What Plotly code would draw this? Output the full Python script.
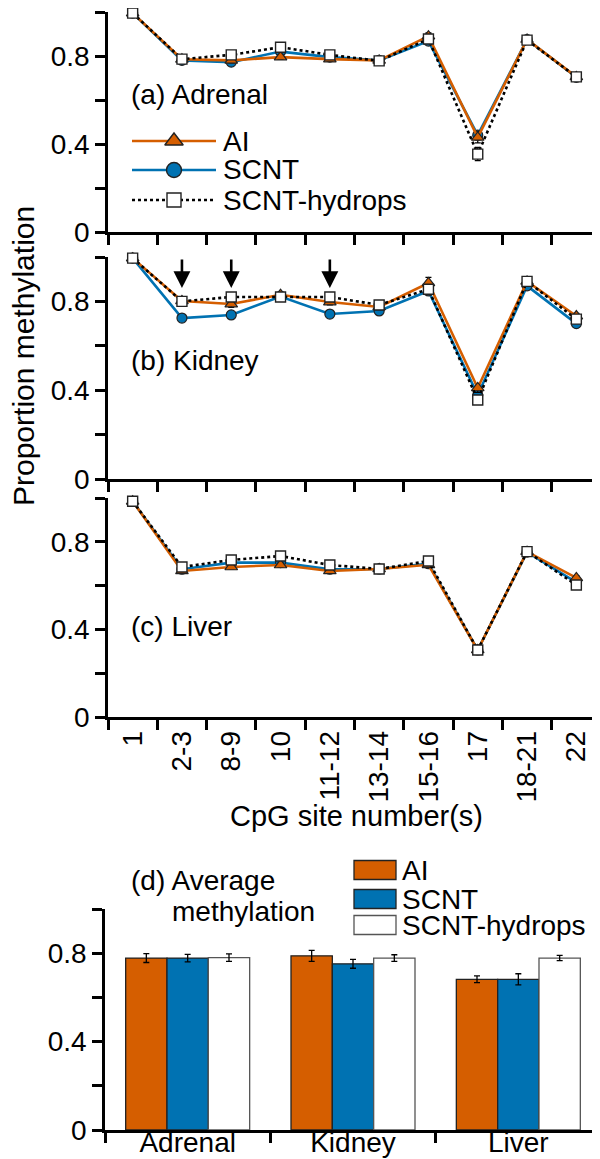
import plotly.graph_objects as go

W, H = 600, 1159

# ---- data -------------------------------------------------------------
sites = ["1", "2-3", "8-9", "10", "11-12", "13-14", "15-16", "17", "18-21", "22"]

adrenal_ai = [0.995, 0.785, 0.780, 0.795, 0.786, 0.780, 0.890, 0.430, 0.875, 0.705]
adrenal_ai_err = [0.005, 0.010, 0.010, 0.010, 0.010, 0.008, 0.015, 0.025, 0.008, 0.006]
adrenal_scnt = [0.995, 0.780, 0.772, 0.820, 0.795, 0.780, 0.868, 0.440, 0.875, 0.703]
adrenal_scnt_err = [0.005, 0.008, 0.008, 0.010, 0.008, 0.008, 0.012, 0.020, 0.008, 0.006]
adrenal_hyd = [0.995, 0.786, 0.805, 0.840, 0.805, 0.778, 0.877, 0.354, 0.872, 0.705]
adrenal_hyd_err = [0.005, 0.008, 0.008, 0.008, 0.008, 0.006, 0.015, 0.030, 0.008, 0.006]

kidney_ai = [0.995, 0.802, 0.788, 0.830, 0.797, 0.775, 0.883, 0.410, 0.890, 0.734]
kidney_ai_err = [0.005, 0.012, 0.015, 0.012, 0.012, 0.010, 0.025, 0.020, 0.010, 0.012]
kidney_scnt = [0.995, 0.725, 0.739, 0.822, 0.743, 0.757, 0.847, 0.378, 0.870, 0.700]
kidney_scnt_err = [0.005, 0.012, 0.010, 0.015, 0.010, 0.012, 0.012, 0.015, 0.010, 0.012]
kidney_hyd = [0.995, 0.800, 0.820, 0.820, 0.820, 0.784, 0.855, 0.356, 0.890, 0.720]
kidney_hyd_err = [0.005, 0.008, 0.008, 0.010, 0.008, 0.010, 0.012, 0.012, 0.010, 0.010]

liver_ai = [0.985, 0.667, 0.685, 0.694, 0.667, 0.676, 0.695, 0.306, 0.755, 0.635]
liver_ai_err = [0.005, 0.006, 0.008, 0.008, 0.006, 0.006, 0.006, 0.006, 0.008, 0.010]
liver_scnt = [0.985, 0.675, 0.705, 0.705, 0.675, 0.676, 0.700, 0.306, 0.753, 0.615]
liver_scnt_err = [0.005, 0.006, 0.008, 0.008, 0.006, 0.006, 0.006, 0.006, 0.008, 0.010]
liver_hyd = [0.985, 0.685, 0.717, 0.735, 0.694, 0.676, 0.712, 0.306, 0.755, 0.603]
liver_hyd_err = [0.005, 0.006, 0.006, 0.006, 0.006, 0.006, 0.006, 0.006, 0.006, 0.008]

arrow_sites = ["2-3", "8-9", "11-12"]

tissues = ["Adrenal", "Kidney", "Liver"]
avg_ai = [0.778, 0.788, 0.682]
avg_ai_err = [0.020, 0.025, 0.015]
avg_scnt = [0.778, 0.752, 0.682]
avg_scnt_err = [0.017, 0.020, 0.025]
avg_hyd = [0.780, 0.778, 0.778]
avg_hyd_err = [0.017, 0.015, 0.012]

ORANGE = "#D55E00"
BLUE = "#0072B2"
FONT = "Liberation Sans, Arial, sans-serif"
FS = 28


def px_x(x):
    return x / W


def px_y(y):
    return 1 - y / H


fig = go.Figure()

panels = [
    ("x", "y", adrenal_ai, adrenal_ai_err, adrenal_scnt, adrenal_scnt_err, adrenal_hyd, adrenal_hyd_err),
    ("x2", "y2", kidney_ai, kidney_ai_err, kidney_scnt, kidney_scnt_err, kidney_hyd, kidney_hyd_err),
    ("x3", "y3", liver_ai, liver_ai_err, liver_scnt, liver_scnt_err, liver_hyd, liver_hyd_err),
]

err_style = dict(type="data", color="black", thickness=1.3, width=3)

for xa, ya, ai, ai_e, sc, sc_e, hy, hy_e in panels:
    fig.add_trace(go.Scatter(
        x=sites, y=sc, xaxis=xa, yaxis=ya, mode="lines+markers", cliponaxis=False,
        line=dict(color=BLUE, width=2.6),
        marker=dict(symbol="circle", size=10, color=BLUE, line=dict(color="#222", width=1.2)),
        error_y=dict(array=sc_e, **err_style), showlegend=False,
    ))
    fig.add_trace(go.Scatter(
        x=sites, y=ai, xaxis=xa, yaxis=ya, mode="lines+markers", cliponaxis=False,
        line=dict(color=ORANGE, width=2.6),
        marker=dict(symbol="triangle-up", size=11, color=ORANGE, line=dict(color="#222", width=1.2)),
        error_y=dict(array=ai_e, **err_style), showlegend=False,
    ))
    fig.add_trace(go.Scatter(
        x=sites, y=hy, xaxis=xa, yaxis=ya, mode="lines+markers", cliponaxis=False,
        line=dict(color="black", width=2.6, dash="dot"),
        marker=dict(symbol="square", size=10, color="white", line=dict(color="#222", width=1.4)),
        error_y=dict(array=hy_e, **err_style), showlegend=False,
    ))

# bars
for name, vals, errs, col, lcol in [
    ("AI", avg_ai, avg_ai_err, ORANGE, "#222"),
    ("SCNT", avg_scnt, avg_scnt_err, BLUE, "#222"),
    ("SCNT-hydrops", avg_hyd, avg_hyd_err, "white", "#555"),
]:
    fig.add_trace(go.Bar(
        x=tissues, y=vals, name=name, xaxis="x4", yaxis="y4",
        marker=dict(color=col, line=dict(color=lcol, width=1.3)),
        error_y=dict(array=errs, **err_style), showlegend=False,
    ))

# legend keys, drawn on a pixel-based overlay axis
leg_rows = [
    ("AI", 133, ORANGE, "solid", "triangle-up", ORANGE, 16),
    ("SCNT", 162, BLUE, "solid", "circle", BLUE, 15),
    ("SCNT-hydrops", 192, "black", "dot", "square", "white", 14),
]
for name, yy, lc, dash, sym, fc, ms in leg_rows:
    fig.add_trace(go.Scatter(
        x=[124, 208], y=[yy, yy], xaxis="x5", yaxis="y5", mode="lines",
        line=dict(color=lc, width=2.6, dash=dash), showlegend=False, hoverinfo="skip",
    ))
    fig.add_trace(go.Scatter(
        x=[166], y=[yy], xaxis="x5", yaxis="y5", mode="markers",
        marker=dict(symbol=sym, size=ms, color=fc, line=dict(color="#222", width=1.4)),
        showlegend=False, hoverinfo="skip",
    ))

shapes = []
annotations = []
for name, yy, lc, dash, sym, fc, ms in leg_rows:
    annotations.append(dict(x=px_x(213), y=px_y(yy), xref="paper", yref="paper", text=name,
                            showarrow=False, xanchor="left", yanchor="middle",
                            font=dict(family=FONT, size=FS, color="black")))

bar_leg = [("AI", 862, ORANGE, "#222"), ("SCNT", 891, BLUE, "#222"), ("SCNT-hydrops", 917, "white", "#555")]
for name, yy, fc, lc in bar_leg:
    shapes.append(dict(type="rect", xref="paper", yref="paper",
                       x0=px_x(346), x1=px_x(388), y0=px_y(yy - 9.5), y1=px_y(yy + 9.5),
                       fillcolor=fc, line=dict(color=lc, width=1.3)))
    annotations.append(dict(x=px_x(392), y=px_y(yy), xref="paper", yref="paper", text=name,
                            showarrow=False, xanchor="left", yanchor="middle",
                            font=dict(family=FONT, size=FS, color="black")))

# panel labels
for txt, xx, yy in [("(a) Adrenal", 121, 87), ("(b) Kidney", 121, 352), ("(c) Liver", 121, 618),
                    ("(d) Average", 121, 872), ("methylation", 162, 903)]:
    annotations.append(dict(x=px_x(xx), y=px_y(yy), xref="paper", yref="paper", text=txt,
                            showarrow=False, xanchor="left", yanchor="middle",
                            font=dict(family=FONT, size=FS, color="black")))

# axis titles
annotations.append(dict(x=px_x(16), y=px_y(348), xref="paper", yref="paper",
                        text="Proportion methylation", textangle=-90, showarrow=False,
                        xanchor="center", yanchor="middle",
                        font=dict(family=FONT, size=30, color="black")))
annotations.append(dict(x=px_x(348), y=px_y(808), xref="paper", yref="paper",
                        text="CpG site number(s)", showarrow=False,
                        xanchor="center", yanchor="middle",
                        font=dict(family=FONT, size=29, color="black")))

# arrows in kidney panel
for s in arrow_sites:
    annotations.append(dict(x=s, y=0.86, xref="x2", yref="y2", text="", showarrow=True,
                            ax=0, ay=-30, arrowhead=2, arrowsize=1.3, arrowwidth=2.6,
                            arrowcolor="black"))

axis_common = dict(
    showline=True, linecolor="black", linewidth=2.6, ticks="outside", ticklen=10,
    tickwidth=2.6, tickcolor="black", showgrid=False, zeroline=False,
    tickfont=dict(family=FONT, size=FS, color="black"), automargin=False, fixedrange=True,
)
y_common = dict(axis_common, range=[0, 1.0], tickvals=[0, 0.2, 0.4, 0.6, 0.8, 1.0],
                ticktext=["0", "", "0.4", "", "0.8", ""])
x_common = dict(axis_common, type="category", tickson="boundaries", range=[-0.5, 9.5],
                tickangle=-90)

line_xdom = [px_x(100), px_x(593)]

fig.update_layout(
    width=W, height=H,
    margin=dict(l=0, r=0, t=0, b=0),
    paper_bgcolor="white", plot_bgcolor="rgba(0,0,0,0)",
    font=dict(family=FONT, size=FS, color="black"),
    xaxis=dict(x_common, domain=line_xdom, anchor="y", showticklabels=False),
    yaxis=dict(y_common, domain=[px_y(224), px_y(4)], anchor="x"),
    xaxis2=dict(x_common, domain=line_xdom, anchor="y2", showticklabels=False),
    yaxis2=dict(y_common, domain=[px_y(471), px_y(249)], anchor="x2"),
    xaxis3=dict(x_common, domain=line_xdom, anchor="y3"),
    yaxis3=dict(y_common, domain=[px_y(709), px_y(490)], anchor="x3"),
    xaxis4=dict(axis_common, type="category", tickson="boundaries", range=[-0.5, 2.5],
                domain=[px_x(97), px_x(593)], anchor="y4", ticklabelstandoff=-14),
    yaxis4=dict(y_common, domain=[px_y(1122), px_y(901)], anchor="x4"),
    xaxis5=dict(domain=[0, 1], range=[0, W], anchor="y5", visible=False, fixedrange=True),
    yaxis5=dict(domain=[0, 1], range=[H, 0], anchor="x5", visible=False, fixedrange=True),
    barmode="group", bargap=0.25, bargroupgap=0,
    shapes=shapes, annotations=annotations,
)

fig.write_html("out.html")
